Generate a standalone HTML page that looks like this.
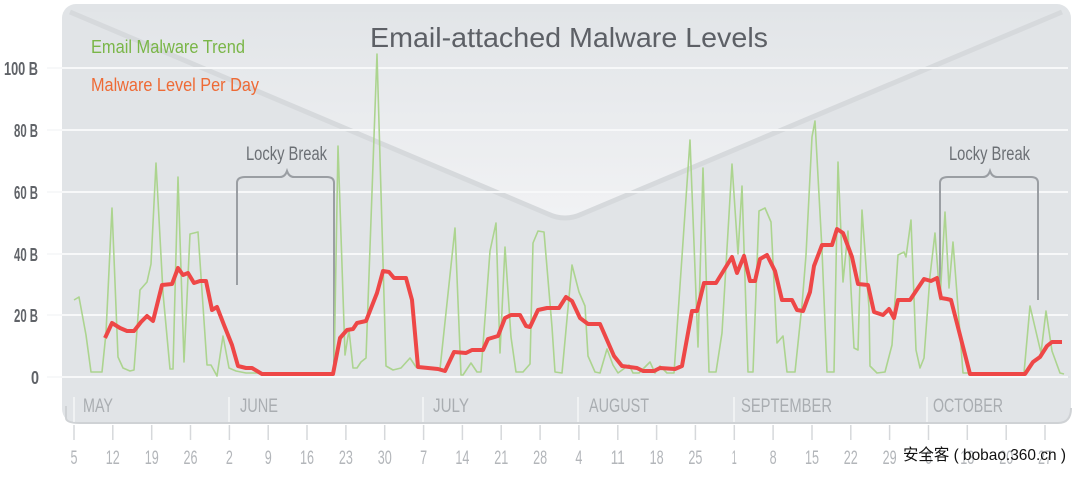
<!DOCTYPE html>
<html><head><meta charset="utf-8"><style>
html,body{margin:0;padding:0;background:#fff;}
svg text{font-family:"Liberation Sans",sans-serif;}
</style></head><body>
<svg width="1074" height="472" viewBox="0 0 1074 472" xmlns="http://www.w3.org/2000/svg">
<defs>
<linearGradient id="env" x1="0" y1="0" x2="0" y2="1">
<stop offset="0" stop-color="#e2e5e8"/><stop offset="1" stop-color="#f1f2f4"/>
</linearGradient>
</defs>
<rect x="62" y="4" width="1009" height="419" rx="14" fill="#e1e4e7"/>
<path d="M66,406 L66,418 Q66,423 80,423 L1058,423 Q1071,423 1071,408" fill="none" stroke="#cfd2d5" stroke-width="2"/>
<path d="M70,12 L548,214 Q565,222 582,214 L1062,12 Z" fill="url(#env)"/>
<path d="M70,12 L548,214 Q565,222 582,214 L1062,12" fill="none" stroke="#d6d9dc" stroke-width="5" stroke-linejoin="round"/>
<g stroke="#f7f8f9" stroke-width="2">
<line x1="47" y1="68" x2="1068" y2="68"/><line x1="47" y1="130" x2="1068" y2="130"/>
<line x1="47" y1="192" x2="1068" y2="192"/><line x1="47" y1="254" x2="1068" y2="254"/>
<line x1="47" y1="315" x2="1068" y2="315"/><line x1="47" y1="377" x2="1068" y2="377"/>
</g>
<g font-size="18" font-weight="bold" fill="#606368" lengthAdjust="spacingAndGlyphs">
<text x="4" y="75" textLength="34" lengthAdjust="spacingAndGlyphs">100 B</text>
<text x="14" y="137" textLength="24" lengthAdjust="spacingAndGlyphs">80 B</text>
<text x="14" y="199" textLength="24" lengthAdjust="spacingAndGlyphs">60 B</text>
<text x="14" y="261" textLength="24" lengthAdjust="spacingAndGlyphs">40 B</text>
<text x="14" y="322" textLength="24" lengthAdjust="spacingAndGlyphs">20 B</text>
<text x="31" y="384" textLength="8" lengthAdjust="spacingAndGlyphs">0</text>
</g>
<text x="370" y="47" font-size="28" fill="#5d6066" textLength="398" lengthAdjust="spacingAndGlyphs">Email-attached Malware Levels</text>
<text x="91" y="53" font-size="18" fill="#7ab648" textLength="154" lengthAdjust="spacingAndGlyphs">Email Malware Trend</text>
<text x="91" y="91" font-size="18" fill="#ee6a35" textLength="168" lengthAdjust="spacingAndGlyphs">Malware Level Per Day</text>
<g fill="none" stroke="#9a9ea3" stroke-width="2">
<path d="M237,285 L237,183 Q237,177 245,177 L280,177 Q285,177 287,171 Q289,177 294,177 L327,177 Q334,177 334,183 L334,370"/>
<path d="M940,285 L940,183 Q940,177 948,177 L983,177 Q988,177 990,171 Q992,177 997,177 L1031,177 Q1038,177 1038,183 L1038,300"/>
</g>
<text x="246" y="160" font-size="19" fill="#6b6f74" textLength="81" lengthAdjust="spacingAndGlyphs">Locky Break</text>
<text x="949" y="160" font-size="19" fill="#6b6f74" textLength="81" lengthAdjust="spacingAndGlyphs">Locky Break</text>
<polyline fill="none" stroke="#acd48f" stroke-width="1.6" stroke-linejoin="round" points="74,300 79,297 86,335 91,372 102,372 106,333 112,208 118,357 123,368 130,371 134,370 140,290 147,282 151,264 156,163 163,293 170,369 173,369 178,177 184,362 190,234 198,232 207,365 211,365 217,376 223,336 229,368 236,371 246,373 334,373 338,146 345,355 349,330 353,368 357,368 361,362 366,358 377,54 386,366 393,370 401,368 410,358 416,367 440,369 455,228 461,375 463,375 471,363 477,372 481,372 490,251 496,223 500,353 505,247 511,337 516,372 523,372 530,364 533,243 538,231 544,232 552,327 555,372 562,373 572,265 579,292 585,306 588,356 595,372 600,373 607,349 613,365 618,373 629,365 633,373 639,373 650,362 655,373 660,366 667,373 674,373 690,140 698,347 703,168 709,372 716,372 722,333 732,164 738,254 742,186 748,372 753,372 759,211 765,208 771,222 777,343 783,336 787,372 795,372 802,305 806,255 812,137 815,121 822,250 827,372 834,372 838,162 843,282 848,231 854,348 858,350 862,210 869,308 870,366 877,373 885,372 892,345 898,255 904,252 906,257 911,220 916,350 920,368 924,358 930,276 935,233 940,300 945,212 949,288 953,242 963,373 1024,373 1030,306 1041,353 1046,311 1052,351 1060,373 1064,374"/>
<polyline fill="none" stroke="#ee4747" stroke-width="4" stroke-linejoin="round" points="105,338 112,323 120,328 127,331 134,331 141,322 147,316 153,321 162,285 172,284 178,268 183,275 188,273 194,283 200,281 206,281 212,310 217,307 224,325 232,345 238,366 246,368 252,368 262,374 333,374 340,338 347,330 353,329 357,323 366,321 377,293 383,271 389,272 394,278 406,278 412,300 418,367 438,369 445,371 454,352 466,353 472,350 483,350 488,339 498,336 505,318 511,315 520,315 526,326 530,327 538,310 547,308 559,308 566,297 572,301 580,318 588,324 600,324 607,340 614,356 622,366 637,368 643,371 654,371 660,368 675,369 682,366 692,311 697,311 704,283 716,283 732,257 737,273 744,256 750,281 755,281 760,259 767,255 775,271 782,300 792,300 797,310 803,311 810,292 814,266 822,245 832,245 837,229 843,233 852,257 858,284 868,285 874,312 883,315 889,309 894,318 898,300 910,300 918,288 924,279 931,281 937,278 941,298 947,299 951,300 970,374 1025,374 1033,362 1040,357 1047,346 1052,342 1062,342"/>
<g stroke="#f5f6f7" stroke-width="1.5">
<line x1="74" y1="397" x2="74" y2="422"/><line x1="229" y1="397" x2="229" y2="422"/>
<line x1="423" y1="397" x2="423" y2="422"/><line x1="578" y1="397" x2="578" y2="422"/>
<line x1="734" y1="397" x2="734" y2="422"/><line x1="927" y1="397" x2="927" y2="422"/>
</g>
<g font-size="19" fill="#a9adb1">
<text x="83" y="412" textLength="30" lengthAdjust="spacingAndGlyphs">MAY</text>
<text x="240" y="412" textLength="38" lengthAdjust="spacingAndGlyphs">JUNE</text>
<text x="433" y="412" textLength="36" lengthAdjust="spacingAndGlyphs">JULY</text>
<text x="589" y="412" textLength="60" lengthAdjust="spacingAndGlyphs">AUGUST</text>
<text x="741" y="412" textLength="91" lengthAdjust="spacingAndGlyphs">SEPTEMBER</text>
<text x="933" y="412" textLength="70" lengthAdjust="spacingAndGlyphs">OCTOBER</text>
</g>
<g stroke="#d6d8db" stroke-width="1.5">
<line x1="74" y1="425" x2="74" y2="440"/><line x1="112.8" y1="425" x2="112.8" y2="440"/><line x1="151.7" y1="425" x2="151.7" y2="440"/><line x1="190.5" y1="425" x2="190.5" y2="440"/><line x1="229.4" y1="425" x2="229.4" y2="440"/><line x1="268.2" y1="425" x2="268.2" y2="440"/><line x1="307" y1="425" x2="307" y2="440"/><line x1="345.9" y1="425" x2="345.9" y2="440"/><line x1="384.7" y1="425" x2="384.7" y2="440"/><line x1="423.6" y1="425" x2="423.6" y2="440"/><line x1="462.4" y1="425" x2="462.4" y2="440"/><line x1="501.2" y1="425" x2="501.2" y2="440"/><line x1="540.1" y1="425" x2="540.1" y2="440"/><line x1="578.9" y1="425" x2="578.9" y2="440"/><line x1="617.8" y1="425" x2="617.8" y2="440"/><line x1="656.6" y1="425" x2="656.6" y2="440"/><line x1="695.4" y1="425" x2="695.4" y2="440"/><line x1="734.3" y1="425" x2="734.3" y2="440"/><line x1="773.1" y1="425" x2="773.1" y2="440"/><line x1="812" y1="425" x2="812" y2="440"/><line x1="850.8" y1="425" x2="850.8" y2="440"/><line x1="889.6" y1="425" x2="889.6" y2="440"/><line x1="928.5" y1="425" x2="928.5" y2="440"/><line x1="967.3" y1="425" x2="967.3" y2="440"/><line x1="1006.2" y1="425" x2="1006.2" y2="440"/><line x1="1045" y1="425" x2="1045" y2="440"/>
</g>
<g font-size="19" fill="#b3b6ba" text-anchor="middle">
<text x="74" y="464" textLength="7" lengthAdjust="spacingAndGlyphs">5</text><text x="112.8" y="464" textLength="14" lengthAdjust="spacingAndGlyphs">12</text><text x="151.7" y="464" textLength="14" lengthAdjust="spacingAndGlyphs">19</text><text x="190.5" y="464" textLength="14" lengthAdjust="spacingAndGlyphs">26</text><text x="229.4" y="464" textLength="7" lengthAdjust="spacingAndGlyphs">2</text><text x="268.2" y="464" textLength="7" lengthAdjust="spacingAndGlyphs">9</text><text x="307" y="464" textLength="14" lengthAdjust="spacingAndGlyphs">16</text><text x="345.9" y="464" textLength="14" lengthAdjust="spacingAndGlyphs">23</text><text x="384.7" y="464" textLength="14" lengthAdjust="spacingAndGlyphs">30</text><text x="423.6" y="464" textLength="7" lengthAdjust="spacingAndGlyphs">7</text><text x="462.4" y="464" textLength="14" lengthAdjust="spacingAndGlyphs">14</text><text x="501.2" y="464" textLength="14" lengthAdjust="spacingAndGlyphs">21</text><text x="540.1" y="464" textLength="14" lengthAdjust="spacingAndGlyphs">28</text><text x="578.9" y="464" textLength="7" lengthAdjust="spacingAndGlyphs">4</text><text x="617.8" y="464" textLength="14" lengthAdjust="spacingAndGlyphs">11</text><text x="656.6" y="464" textLength="14" lengthAdjust="spacingAndGlyphs">18</text><text x="695.4" y="464" textLength="14" lengthAdjust="spacingAndGlyphs">25</text><text x="734.3" y="464" textLength="5" lengthAdjust="spacingAndGlyphs">1</text><text x="773.1" y="464" textLength="7" lengthAdjust="spacingAndGlyphs">8</text><text x="812" y="464" textLength="14" lengthAdjust="spacingAndGlyphs">15</text><text x="850.8" y="464" textLength="14" lengthAdjust="spacingAndGlyphs">22</text><text x="889.6" y="464" textLength="14" lengthAdjust="spacingAndGlyphs">29</text><text x="928.5" y="464" textLength="7" lengthAdjust="spacingAndGlyphs">6</text><text x="967.3" y="464" textLength="14" lengthAdjust="spacingAndGlyphs">13</text><text x="1006.2" y="464" textLength="14" lengthAdjust="spacingAndGlyphs">20</text><text x="1045" y="464" textLength="14" lengthAdjust="spacingAndGlyphs">27</text>
</g>
<text x="903" y="460" font-size="16" fill="#111" textLength="163" lengthAdjust="spacingAndGlyphs" style="font-family:'Liberation Sans','Noto Sans CJK SC',sans-serif">安全客 ( bobao.360.cn )</text>
</svg>
</body></html>
